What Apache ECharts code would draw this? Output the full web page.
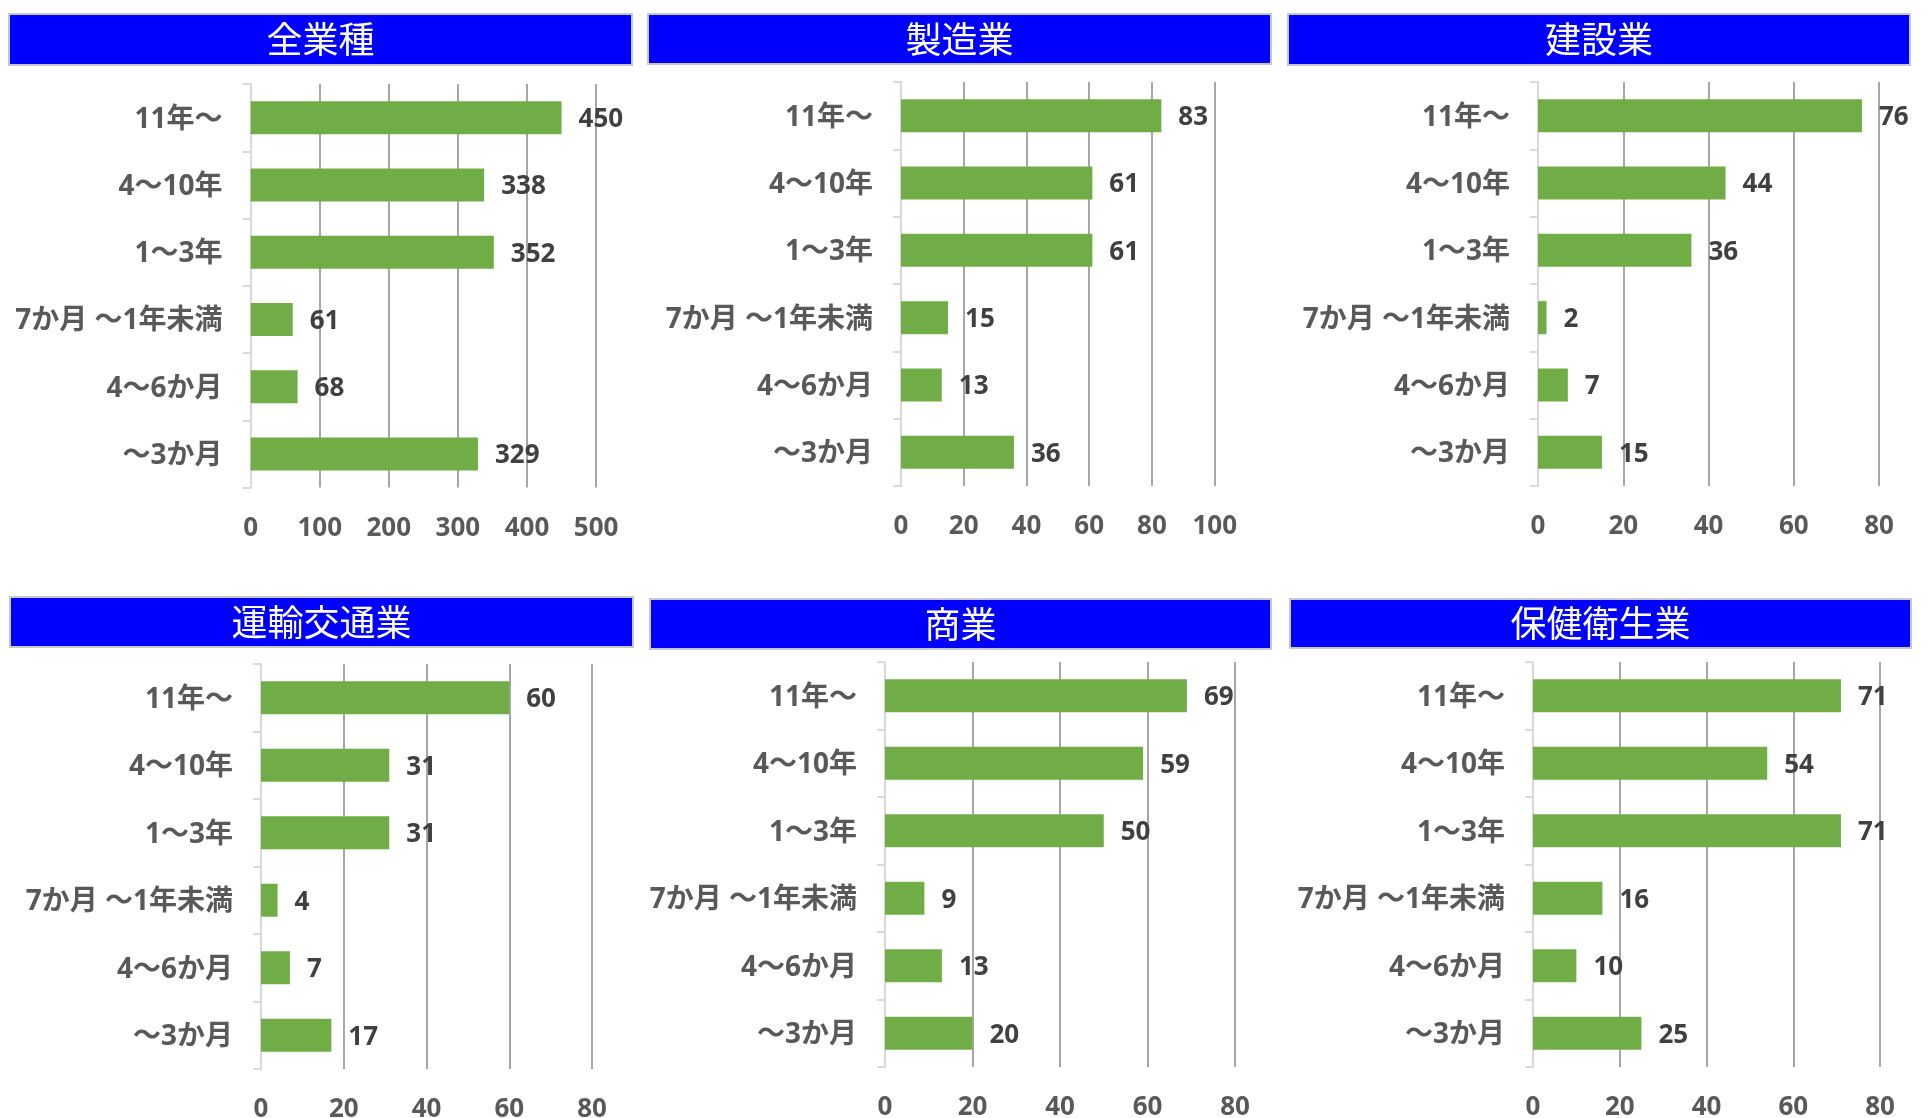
<!DOCTYPE html>
<html><head><meta charset="utf-8">
<script src="https://cdn.jsdelivr.net/npm/echarts@6/dist/echarts.min.js"></script>
<style>html,body{margin:0;padding:0;background:#fff}#c{width:1932px;height:1118px}</style>
</head><body><div id="c"></div>
<script>
// ---- data ----
const categories = ['11年～', '4～10年', '1～3年', '7か月 ～1年未満', '4～6か月', '～3か月'];
const panelTitles = ['全業種', '製造業', '建設業', '運輸交通業', '商業', '保健衛生業'];
const allIndustries = [450, 338, 352, 61, 68, 329];
const manufacturing = [83, 61, 61, 15, 13, 36];
const construction = [76, 44, 36, 2, 7, 15];
const transport = [60, 31, 31, 4, 7, 17];
const commerce = [69, 59, 50, 9, 13, 20];
const health = [71, 54, 71, 16, 10, 25];
const axisMax = [500, 100, 80, 80, 80, 80];
const axisInterval = [100, 20, 20, 20, 20, 20];

const seriesData = [allIndustries, manufacturing, construction, transport, commerce, health];

// ---- layout (pixels) ----
const titleBars = [
  [9, 14, 623, 51], [648, 14, 623, 50], [1288, 14, 622, 51],
  [10, 597, 623, 50], [650, 599, 621, 50], [1290, 599, 621, 49]
];
const grids = [
  [250.6, 84, 345.5, 403.5], [901, 82, 313.7, 404], [1538, 82, 341, 404],
  [261, 664, 331, 405], [885, 662, 350, 405], [1533, 662, 347, 405]
];

const latin = "'Noto Sans', 'Noto Sans CJK JP', sans-serif";
const cjk = "'Noto Sans CJK JP', sans-serif";

const option = {
  backgroundColor: '#ffffff',
  animation: false,
  grid: grids.map(g => ({left: g[0], top: g[1], width: g[2], height: g[3],
                          containLabel: false, outerBoundsMode: 'none'})),
  xAxis: grids.map((g, i) => ({
    type: 'value', gridIndex: i, min: 0, max: axisMax[i], interval: axisInterval[i],
    axisLine: {show: false}, axisTick: {show: false},
    splitLine: {show: true, lineStyle: {color: '#a6a6a6', width: 2}},
    axisLabel: {color: '#595959', fontSize: 26, fontWeight: 'bold', fontFamily: latin, margin: 28}
  })),
  yAxis: grids.map((g, i) => ({
    type: 'category', gridIndex: i, data: categories, inverse: true,
    axisLine: {show: true, lineStyle: {color: '#d9d9d9', width: 2}},
    axisTick: {show: true, length: 8, lineStyle: {color: '#d9d9d9', width: 2}},
    splitLine: {show: false},
    axisLabel: {color: '#595959', fontSize: 28, fontWeight: 'bold', fontFamily: latin, margin: 28,
                formatter: v => '{a|' + v + '}',
                rich: {a: {color: '#595959', fontSize: 28, fontWeight: 'bold', fontFamily: latin,
                           padding: [4, 0, 0, 0]}}}
  })),
  series: seriesData.map((d, i) => ({
    type: 'bar', xAxisIndex: i, yAxisIndex: i, data: d, barWidth: 33,
    itemStyle: {color: '#70AD47'},
    label: {show: true, position: 'right', distance: 17, color: '#404040', offset: [0, 2],
            fontSize: 26, fontWeight: 'bold', fontFamily: latin}
  })),
  graphic: titleBars.map((b, i) => ({
    type: 'group',
    children: [
      {type: 'rect', shape: {x: b[0], y: b[1], width: b[2], height: b[3]},
       style: {fill: '#0000FF', stroke: '#c8c8c8', lineWidth: 2}},
      {type: 'text', x: b[0] + b[2] / 2, y: b[1] + b[3] / 2,
       style: {text: panelTitles[i], fill: '#ffffff', font: "36px " + cjk,
               textAlign: 'center', textVerticalAlign: 'middle'}}
    ]
  }))
};

const chart = echarts.init(document.getElementById('c'), null, {renderer: 'canvas'});
chart.setOption(option);
</script>
</body></html>
